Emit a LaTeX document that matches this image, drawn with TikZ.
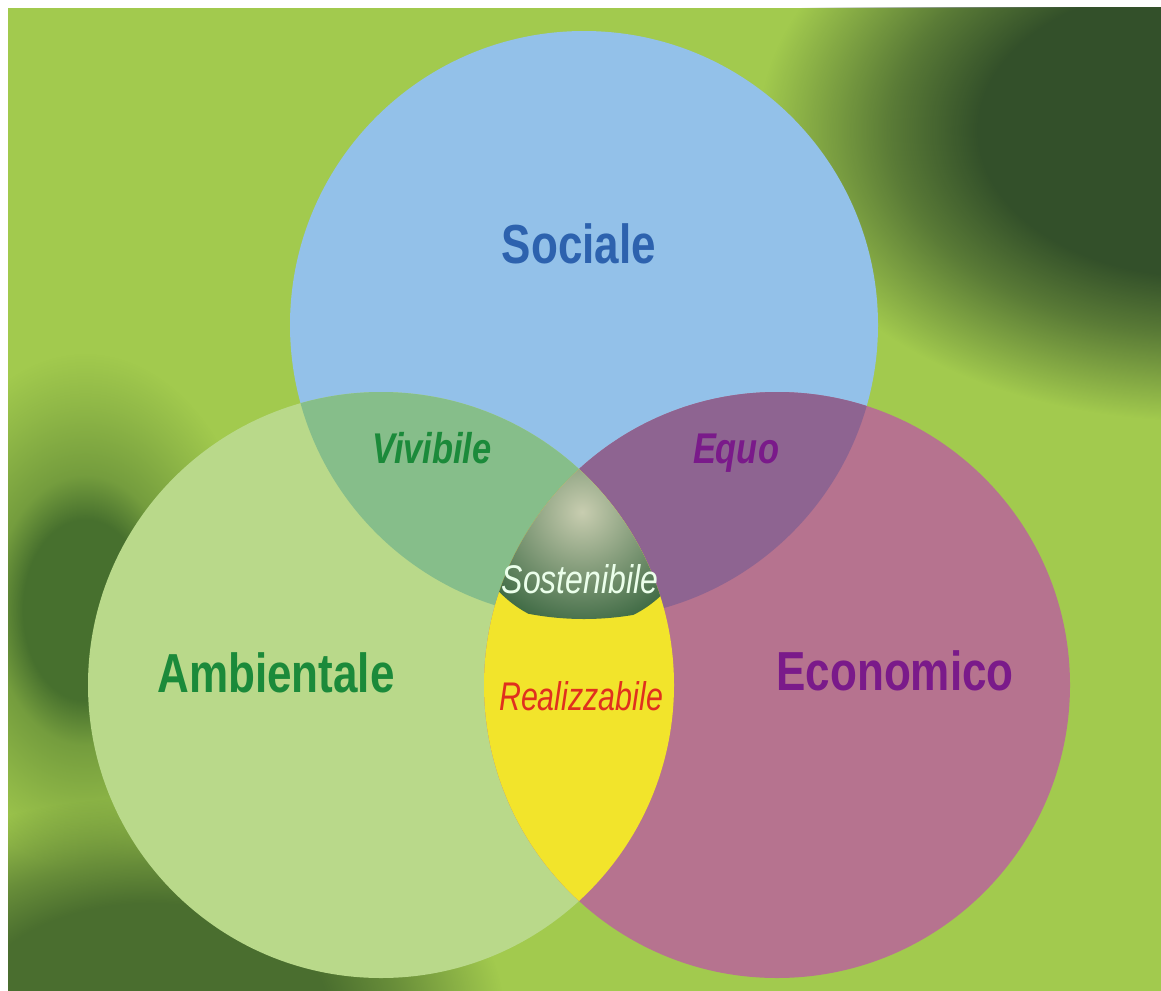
\documentclass[tikz,border=0pt]{standalone}
\usepackage{fontspec}
\newfontfamily\vennfont[FakeStretch=0.8]{Liberation Sans}
\usetikzlibrary{fadings}

\definecolor{bggreen}{HTML}{A2CA4E}
\definecolor{shadowgreen}{HTML}{33502A}
\definecolor{leftshadow}{HTML}{47702E}
\definecolor{lowshadow}{HTML}{4A6E2F}
\definecolor{socfill}{HTML}{93C1E9}
\definecolor{ambfill}{HTML}{B9D98A}
\definecolor{ecofill}{HTML}{B6738F}
\definecolor{socamb}{HTML}{86BE8A}
\definecolor{soceco}{HTML}{8E6491}
\definecolor{ambeco}{HTML}{F2E42B}
\definecolor{corelight}{HTML}{C8CDB0}
\definecolor{coredark}{HTML}{416C46}
\definecolor{socblue}{HTML}{2D62AE}
\definecolor{ambgreen}{HTML}{1B8A3A}
\definecolor{ecopurple}{HTML}{7A1A8A}
\definecolor{realred}{HTML}{E0301E}

\pgfdeclareradialshading{wideglow}{\pgfpoint{0bp}{0bp}}{%
  color(0bp)=(white); color(10bp)=(white);
  color(14bp)=(white!65!black); color(20bp)=(black);
  color(50bp)=(black)}
\pgfdeclareradialshading{sideglow}{\pgfpoint{0bp}{0bp}}{%
  color(0bp)=(white); color(7bp)=(white);
  color(10.5bp)=(white!50!black); color(16bp)=(white!20!black);
  color(20bp)=(black); color(50bp)=(black)}
\pgfdeclarefading{widefade}{\pgfuseshading{wideglow}}
\pgfdeclarefading{sidefade}{\pgfuseshading{sideglow}}

\begin{document}
\begin{tikzpicture}[x=1pt,y=-1pt]

    \tikzset{
      title/.style={
        font=\vennfont\fontsize{55}{55}\selectfont\bfseries,
        anchor=base,
        inner sep=0pt,
      },
      pair/.style={
        font=\vennfont\fontsize{43}{43}\selectfont\bfseries\itshape,
        anchor=base,
        inner sep=0pt,
      },
      core/.style={
        font=\vennfont\fontsize{40}{40}\selectfont\itshape,
        anchor=base,
        inner sep=0pt,
      },
    }
    \useasboundingbox (0,0) rectangle (1161,990);
    \fill[white] (-5,-5) rectangle (1170,1000);
    \fill[bggreen] (8,8) rectangle (1170,1000);

    % background shadows
    \begin{scope}
    \clip (8,8) rectangle (1170,1000);
    \fill[leftshadow, path fading=sidefade] (85,610) ellipse (220 and 320);
    \fill[lowshadow, path fading=widefade] (150,1010) ellipse (440 and 265);
    \fill[shadowgreen, path fading=widefade] (1200,130) ellipse (550 and 362);
    \end{scope}

    \coordinate (soc) at (584,325);
    \coordinate (amb) at (381,685);
    \coordinate (eco) at (777,685);

    \fill[socfill] (soc) circle (294);
    \fill[ambfill] (amb) circle (293);
    \fill[ecofill] (eco) circle (293);

    \begin{scope}
    \clip (soc) circle (294);
    \fill[socamb] (amb) circle (293);
    \fill[soceco] (eco) circle (293);
    \end{scope}
    \begin{scope}
    \clip (amb) circle (293);
    \fill[ambeco] (eco) circle (293);
    \end{scope}
    \begin{scope}
    \clip (soc) circle (294);
    \clip (amb) circle (293);
    \clip (eco) circle (293);
    \shade[inner color=corelight, outer color=coredark] (582,512) circle (115);
    \end{scope}

    \node[title, text=socblue] (sociale) at (579,263) {Sociale};
    \node[title, text=ambgreen] (ambientale) at (276,692) {Ambientale};
    \node[title, text=ecopurple] (economico) at (895,690) {Economico};
    \node[pair, text=ambgreen] (vivibile) at (432,463) {Vivibile};
    \node[pair, text=ecopurple] (equo) at (736,463) {Equo};
    \node[core, text=white!92!green] (sostenibile) at (580,593) {Sostenibile};
    \node[core, text=realred, xscale=0.95] (realizzabile) at (581,710) {Realizzabile};

\end{tikzpicture}
\end{document}
